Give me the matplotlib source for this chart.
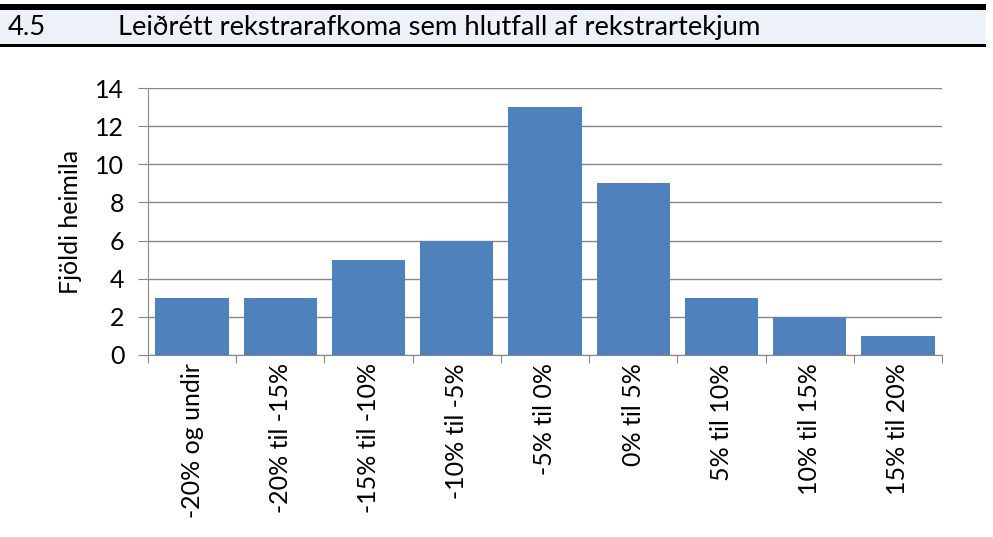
import matplotlib.pyplot as plt
from matplotlib.patches import Rectangle

categories = ['-20% og undir', '-20% til -15%', '-15% til -10%', '-10% til -5%',
              '-5% til 0%', '0% til 5%', '5% til 10%', '10% til 15%', '15% til 20%']
counts = [3, 3, 5, 6, 13, 9, 3, 2, 1]
yticks = [0, 2, 4, 6, 8, 10, 12, 14]

plt.rcParams['font.family'] = ['Lato', 'DejaVu Sans']

fig = plt.figure(figsize=(9.93, 5.37), dpi=100)

# header band
fig.patches.append(Rectangle((0, 1 - 44 / 537), 986 / 993, 34 / 537, transform=fig.transFigure,
                             facecolor='#EDF2F9', edgecolor='none'))
fig.patches.append(Rectangle((0, 1 - 10 / 537), 986 / 993, 6 / 537, transform=fig.transFigure,
                             facecolor='black', edgecolor='none'))
fig.patches.append(Rectangle((0, 1 - 47 / 537), 986 / 993, 3 / 537, transform=fig.transFigure,
                             facecolor='black', edgecolor='none'))
fig.text(8 / 993, 1 - 28 / 537, '4.5', fontsize=19.7, va='center', ha='left')
fig.text(118 / 993, 1 - 28 / 537, 'Leiðrétt rekstrarafkoma sem hlutfall af rekstrartekjum',
         fontsize=19.7, va='center', ha='left')

ax = fig.add_axes([148 / 993, 1 - 355 / 537, (942 - 148) / 993, (355 - 88) / 537])
x = range(len(categories))
ax.bar(x, counts, width=0.83, color='#4F81BD', zorder=3)

ax.set_xlim(-0.5, len(categories) - 0.5)
ax.set_ylim(0, 14)
ax.set_yticks(yticks)
ax.yaxis.grid(True, color='#878787', linewidth=1, zorder=0)
ax.set_ylabel('Fjöldi heimila', fontsize=18, labelpad=10)

ax.set_xticks([i - 0.5 for i in range(len(categories) + 1)])
ax.set_xticklabels([])
ax.set_xticks(list(x), minor=True)
ax.set_xticklabels(categories, minor=True, rotation=90, fontsize=18)
ax.tick_params(axis='x', which='minor', length=0, pad=6)
ax.tick_params(axis='x', which='major', length=6, color='#878787')
ax.tick_params(axis='y', length=7, pad=10, color='#878787', labelsize=18)

for s in ['top', 'right']:
    ax.spines[s].set_visible(False)
ax.spines['left'].set_color('#878787')
ax.spines['bottom'].set_color('#878787')

fig.savefig('out.png', dpi=100)
